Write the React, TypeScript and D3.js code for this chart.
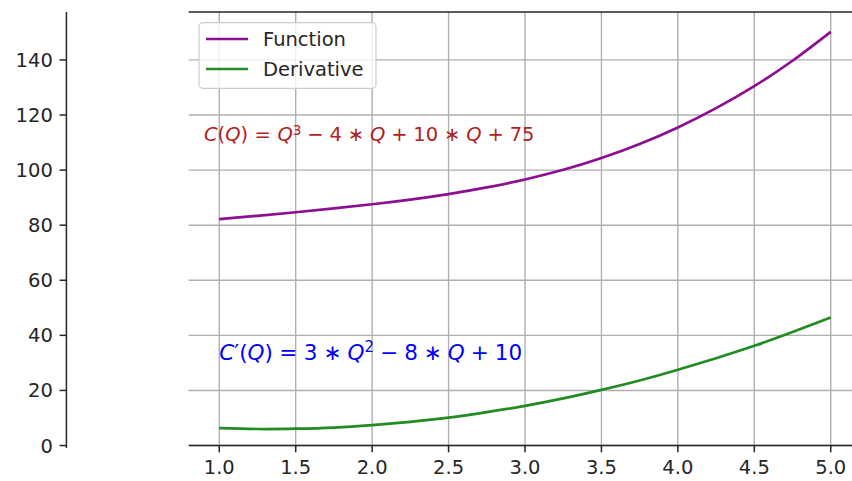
import React from 'react';
import * as d3 from 'd3';

const WIDTH = 852;
const HEIGHT = 481;

// Sampled cost curve C(Q) and its derivative C'(Q)
const qValues = [1.0, 1.25, 1.5, 1.75, 2.0, 2.25, 2.5, 2.75, 3.0, 3.25, 3.5, 3.75, 4.0, 4.25, 4.5, 4.75, 5.0];
const functionValues = [82.2, 83.4, 84.7, 86.1, 87.6, 89.3, 91.3, 93.7, 96.6, 100.1, 104.4, 109.5, 115.5, 122.5, 130.5, 139.7, 150.2];
const derivativeValues = [6.3, 6.0, 6.1, 6.5, 7.4, 8.6, 10.1, 12.1, 14.4, 17.1, 20.2, 23.6, 27.5, 31.7, 36.2, 41.2, 46.5];

const xTicks = [1.0, 1.5, 2.0, 2.5, 3.0, 3.5, 4.0, 4.5, 5.0];
const yTicks = [0, 20, 40, 60, 80, 100, 120, 140];
const legendLabels = ['Function', 'Derivative'];

const FONT = '"DejaVu Sans", "Liberation Sans", sans-serif';
const FS = 19.5;
const PURPLE = '#8b0f8f';
const GREEN = '#228b22';
const RED = '#b22222';
const BLUE = '#0000ff';
const GRID = '#b0b0b0';
const SPINE = '#262626';

type Seg = { t: string; i?: boolean; sup?: boolean; op?: 'bin' | 'rel' };

const costFormula: Seg[] = [
  { t: 'C', i: true }, { t: '(' }, { t: 'Q', i: true }, { t: ')' },
  { t: '=', op: 'rel' }, { t: 'Q', i: true }, { t: '3', sup: true },
  { t: '\u2212', op: 'bin' }, { t: '4' }, { t: '\u2217', op: 'bin' }, { t: 'Q', i: true },
  { t: '+', op: 'bin' }, { t: '10' }, { t: '\u2217', op: 'bin' }, { t: 'Q', i: true },
  { t: '+', op: 'bin' }, { t: '75' },
];

const derivFormula: Seg[] = [
  { t: 'C', i: true }, { t: '\u2032' }, { t: '(' }, { t: 'Q', i: true }, { t: ')' },
  { t: '=', op: 'rel' }, { t: '3' }, { t: '\u2217', op: 'bin' }, { t: 'Q', i: true }, { t: '2', sup: true },
  { t: '\u2212', op: 'bin' }, { t: '8' }, { t: '\u2217', op: 'bin' }, { t: 'Q', i: true },
  { t: '+', op: 'bin' }, { t: '10' },
];

function MathText({ segs, x, y, size, color, binGap, relGap, supRise }: {
  segs: Seg[]; x: number; y: number; size: number; color: string; binGap: number; relGap: number; supRise: number;
}) {
  const gap = (op?: 'bin' | 'rel') => (op === 'rel' ? relGap : op === 'bin' ? binGap : 0) * size;
  const supShift = supRise * size;
  let prevOp: 'bin' | 'rel' | undefined;
  let prevSup = false;
  const spans = segs.map((s, k) => {
    const dx = gap(prevOp) + gap(s.op);
    let dy = 0;
    if (s.sup && !prevSup) dy = -supShift;
    if (!s.sup && prevSup) dy = supShift;
    prevOp = s.op;
    prevSup = !!s.sup;
    return (
      <tspan
        key={k}
        dx={dx}
        dy={dy}
        fontStyle={s.i ? 'italic' : 'normal'}
        fontSize={s.sup ? size * 0.7 : size}
      >
        {s.t}
      </tspan>
    );
  });
  return (
    <text x={x} y={y} fill={color} fontFamily={FONT} fontSize={size}>
      {spans}
    </text>
  );
}

export default function App() {
  const x = d3.scaleLinear().domain([0.8, 5.2]).range([188.7, 861.3]);
  const y = d3.scaleLinear().domain([-0.9, 157.4]).range([448, 12]);
  const [x0, x1] = x.range();
  const [yBottom, yTop] = y.range();

  const line = d3
    .line<number>()
    .x((_, i) => x(qValues[i]))
    .curve(d3.curveNatural);

  const fnPath = line.y((d) => y(d))(functionValues) || '';
  const dvPath = line.y((d) => y(d))(derivativeValues) || '';

  const tickLen = 6.8;
  const pad = 6.8;
  const spineX = x(0);
  const axisY = y(0);

  const legendX = 199;
  const legendY = 22.7;
  const rowY = [39, 69];

  return (
    <div style={{ position: 'fixed', left: 0, top: 0 }}>
      <svg width={WIDTH} height={HEIGHT} style={{ display: 'block', background: '#fff' }}>
        {/* grid */}
        <g stroke={GRID} strokeWidth={1.4}>
          {xTicks.map((t) => (
            <line key={`gx${t}`} x1={x(t)} x2={x(t)} y1={yTop} y2={yBottom} />
          ))}
          {yTicks.map((t) => (
            <line key={`gy${t}`} x1={x0} x2={x1} y1={y(t)} y2={y(t)} />
          ))}
        </g>

        {/* curves */}
        <path d={fnPath} fill="none" stroke={PURPLE} strokeWidth={2.7} />
        <path d={dvPath} fill="none" stroke={GREEN} strokeWidth={2.7} />

        {/* spines */}
        <g stroke={SPINE} strokeWidth={1.5}>
          <line x1={x0} x2={x1} y1={yTop} y2={yTop} />
          <line x1={x0} x2={x1} y1={axisY} y2={axisY} />
          <line x1={spineX} x2={spineX} y1={yTop} y2={yBottom} />
        </g>

        {/* x axis */}
        <g fontFamily={FONT} fontSize={FS} fill="#262626">
          {xTicks.map((t) => (
            <g key={`xt${t}`}>
              <line x1={x(t)} x2={x(t)} y1={axisY} y2={axisY + tickLen} stroke={SPINE} strokeWidth={1.5} />
              <text x={x(t)} y={axisY + tickLen + pad + FS * 0.76} textAnchor="middle">
                {d3.format('.1f')(t)}
              </text>
            </g>
          ))}
        </g>

        {/* y axis */}
        <g fontFamily={FONT} fontSize={FS} fill="#262626">
          {yTicks.map((t) => (
            <g key={`yt${t}`}>
              <line x1={spineX - tickLen} x2={spineX} y1={y(t)} y2={y(t)} stroke={SPINE} strokeWidth={1.5} />
              <text x={spineX - tickLen - pad} y={y(t)} dy="0.36em" textAnchor="end">
                {t}
              </text>
            </g>
          ))}
        </g>

        {/* formulas */}
        <MathText segs={costFormula} x={x(0.9)} y={y(110.6)} size={FS} color={RED} binGap={0.3} relGap={0.33} supRise={0.3} />
        <MathText segs={derivFormula} x={x(1)} y={y(31)} size={21.5} color={BLUE} binGap={0.28} relGap={0.3} supRise={0.38} />

        {/* legend */}
        <rect
          x={legendX}
          y={legendY}
          width={177}
          height={65.6}
          rx={4}
          fill="#fff"
          fillOpacity={0.8}
          stroke="#cccccc"
          strokeWidth={1.2}
        />
        {legendLabels.map((label, i) => (
          <g key={label}>
            <line
              x1={206}
              x2={248}
              y1={rowY[i]}
              y2={rowY[i]}
              stroke={i === 0 ? PURPLE : GREEN}
              strokeWidth={2.7}
            />
            <text x={263} y={rowY[i]} dy="0.36em" fontFamily={FONT} fontSize={FS} fill="#262626">
              {label}
            </text>
          </g>
        ))}
      </svg>
    </div>
  );
}
